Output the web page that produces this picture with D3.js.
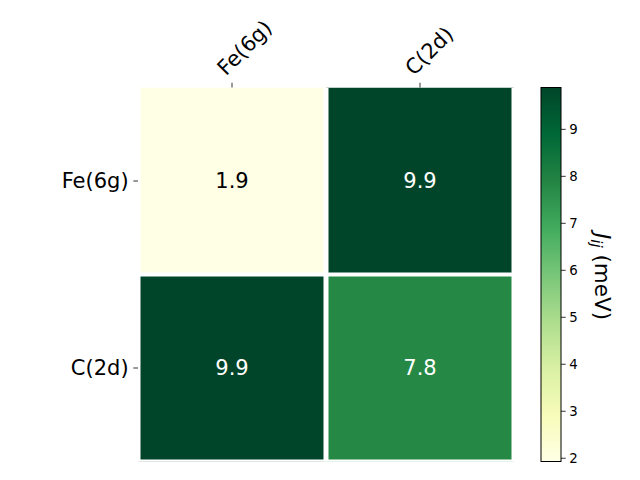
<!DOCTYPE html>
<html>
<head>
<meta charset="utf-8">
<script src="https://cdn.jsdelivr.net/npm/d3@7"></script>
<style>
html,body{margin:0;padding:0;background:#fff;}
text{font-family:"DejaVu Sans",sans-serif;}
</style>
</head>
<body>
<svg id="chart" width="640" height="480"></svg>
<script>
// ---- data ----
const rowLabels = ["Fe(6g)", "C(2d)"];
const colLabels = ["Fe(6g)", "C(2d)"];
const values = [
  [1.92, 9.88],
  [9.88, 7.80]
];
const colorbarTicks = [2, 3, 4, 5, 6, 7, 8, 9];
const ylgn = ["#ffffe5","#f7fcb9","#d9f0a3","#addd8e","#78c679","#41ab5d","#238443","#006837","#004529"];

// ---- layout ----
const svg = d3.select("#chart");
const L = 138, R = 514, T = 87.5, B = 461.5;

const x = d3.scaleBand().domain(colLabels.map((d,i)=>i)).range([L, R]);
const y = d3.scaleBand().domain(rowLabels.map((d,i)=>i)).range([T, B]);

const flat = [];
values.forEach((row, i) => row.forEach((v, j) => flat.push({i, j, v})));
const [vmin, vmax] = d3.extent(flat, d => d.v);
const color = d3.scaleLinear()
  .domain(ylgn.map((c, k) => vmin + (vmax - vmin) * k / (ylgn.length - 1)))
  .range(ylgn)
  .interpolate(d3.interpolateRgb);

const defs = svg.append("defs");
defs.append("clipPath").attr("id", "axclip")
  .append("rect").attr("x", L).attr("y", T).attr("width", R - L).attr("height", B - T);

const g = svg.append("g").attr("clip-path", "url(#axclip)");
g.selectAll("rect.cell").data(flat).join("rect")
  .attr("class", "cell")
  .attr("x", d => x(d.j)).attr("y", d => y(d.i))
  .attr("width", x.bandwidth()).attr("height", y.bandwidth())
  .attr("fill", d => color(d.v));

// white grid lines at cell boundaries
const xb = [L, ...colLabels.slice(1).map((d, i) => x(i + 1)), R];
const yb = [...rowLabels.slice(1).map((d, i) => y(i + 1)), B];
g.selectAll("line.vx").data(xb).join("line")
  .attr("x1", d => d).attr("x2", d => d).attr("y1", T).attr("y2", B)
  .attr("stroke", "#fff").attr("stroke-width", 5);
g.selectAll("line.hy").data(yb).join("line")
  .attr("y1", d => d).attr("y2", d => d).attr("x1", L).attr("x2", R)
  .attr("stroke", "#fff").attr("stroke-width", 4);

// annotations
svg.selectAll("text.ann").data(flat).join("text")
  .attr("class", "ann")
  .attr("x", d => x(d.j) + x.bandwidth() / 2)
  .attr("y", d => y(d.i) + y.bandwidth() / 2)
  .attr("text-anchor", "middle").attr("dominant-baseline", "central")
  .attr("font-size", "21px")
  .attr("fill", d => (d.v > (vmin + vmax) / 2 ? "#fff" : "#000"))
  .text(d => d.v.toFixed(1));

// axes ticks and labels
const tickLen = 4.7;
colLabels.forEach((lab, j) => {
  const cx = x(j) + x.bandwidth() / 2;
  svg.append("line").attr("x1", cx).attr("x2", cx).attr("y1", T).attr("y2", T - tickLen)
    .attr("stroke", "#000").attr("stroke-width", 0.8);
  svg.append("text")
    .attr("transform", `translate(${cx - 6},${T - 11}) rotate(-45)`)
    .attr("text-anchor", "start")
    .attr("font-size", "21px").attr("fill", "#000")
    .text(lab);
});
rowLabels.forEach((lab, i) => {
  const cy = y(i) + y.bandwidth() / 2;
  svg.append("line").attr("x1", L).attr("x2", L - tickLen).attr("y1", cy).attr("y2", cy)
    .attr("stroke", "#000").attr("stroke-width", 0.8);
  svg.append("text")
    .attr("x", L - tickLen - 4.7).attr("y", cy)
    .attr("text-anchor", "end").attr("dominant-baseline", "central")
    .attr("font-size", "21px").attr("fill", "#000")
    .text(lab);
});

// colorbar
const CL = 541, CR = 561;
const cy = d3.scaleLinear().domain([vmin, vmax]).range([B, T]);
const grad = defs.append("linearGradient").attr("id", "cbgrad")
  .attr("x1", 0).attr("y1", 1).attr("x2", 0).attr("y2", 0);
ylgn.forEach((c, k) => grad.append("stop").attr("offset", k / (ylgn.length - 1)).attr("stop-color", c));
svg.append("rect").attr("x", CL).attr("y", T).attr("width", CR - CL).attr("height", B - T)
  .attr("fill", "url(#cbgrad)").attr("stroke", "#000").attr("stroke-width", 1);

const cbAxis = d3.axisRight(cy).tickValues(colorbarTicks).tickSize(tickLen).tickPadding(3.5)
  .tickFormat(d3.format("d"));
const cbg = svg.append("g").attr("transform", `translate(${CR},0)`).call(cbAxis);
cbg.select(".domain").remove();
cbg.selectAll(".tick line").attr("stroke", "#000").attr("stroke-width", 0.8);
cbg.selectAll(".tick text").attr("font-size", "13.3px").attr("font-family", "DejaVu Sans").attr("fill", "#000");

const lab = svg.append("text")
  .attr("transform", `translate(595,${(T + B) / 2 + 2}) rotate(90)`)
  .attr("text-anchor", "middle")
  .attr("font-size", "21.5px").attr("fill", "#000");
lab.append("tspan").attr("font-style", "italic").text("J");
lab.append("tspan").attr("font-style", "italic").attr("font-size", "15px").attr("dy", 4).text("ij");
lab.append("tspan").attr("dy", -4).text(" (meV)");
</script>
</body>
</html>
